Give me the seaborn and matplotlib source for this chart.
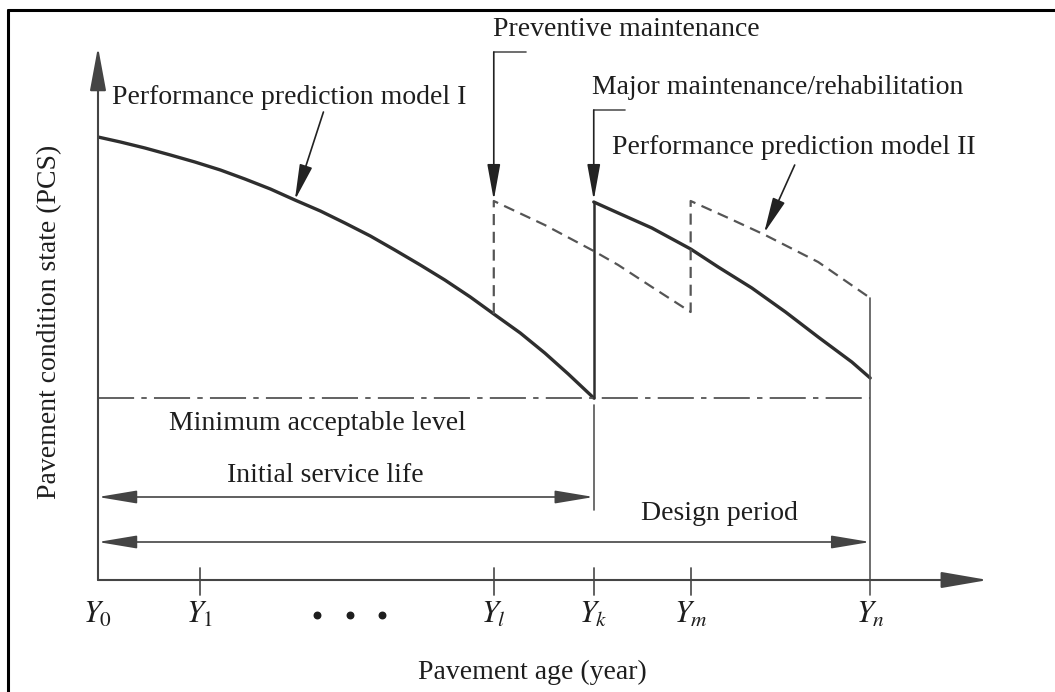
import numpy as np
import pandas as pd
import matplotlib
matplotlib.use("Agg")
import matplotlib.pyplot as plt
import seaborn as sns
from matplotlib.lines import Line2D

# ---------------- data (years on x, condition state on y) ----------------
tick_labels = ["$Y_0$", "$Y_1$", "$Y_l$", "$Y_k$", "$Y_m$", "$Y_n$"]
tick_years = [0.0, 1.0, 3.88, 4.86, 5.81, 7.57]
dot_years = [2.15, 2.47, 2.78]

model1_years = [0.0, 0.22, 0.46, 0.71, 0.95, 1.20, 1.44, 1.69, 1.93, 2.18, 2.42,
                2.67, 2.91, 3.16, 3.40, 3.65, 3.88, 4.14, 4.38, 4.61, 4.86]
model1_pcs = [4.43, 4.38, 4.32, 4.25, 4.18, 4.10, 4.01, 3.91, 3.80, 3.69, 3.57,
              3.44, 3.30, 3.15, 3.00, 2.83, 2.66, 2.47, 2.27, 2.06, 1.82]

rehab_years = [4.86, 5.10, 5.43, 5.81, 6.08, 6.41, 6.74, 7.06, 7.39, 7.57]
rehab_pcs = [3.78, 3.67, 3.52, 3.31, 3.13, 2.92, 2.68, 2.43, 2.18, 2.02]

preventive_years = [3.88, 3.88, 4.38, 4.86, 5.10, 5.43, 5.81,
                    5.81, 6.18, 6.54, 7.06, 7.57]
preventive_pcs = [2.66, 3.79, 3.55, 3.29, 3.15, 2.93, 2.68,
                  3.79, 3.62, 3.45, 3.18, 2.82]

min_level = 1.82
axis_end_year = 8.725
axis_top_pcs = 5.33

# ---------------- style ----------------
sns.set_theme(style="white")
plt.rcParams["font.family"] = ["Liberation Serif", "DejaVu Serif"]
plt.rcParams["mathtext.fontset"] = "stix"

INK = "#1e1e1e"
LINE = "#2e2e2e"
THIN = "#555555"
HEAD = "#222222"
FS = 20

fig = plt.figure(figsize=(10.55, 6.92), dpi=100)
W, H = 1055, 692
ax = fig.add_axes([98 / W, (H - 580) / H, (988 - 98) / W, (580 - 47) / H])


def arrow(start, end, style="-|>", lw=1.3, hl=2.2, hw=0.45, color=HEAD):
    ax.annotate("", xy=end, xytext=start,
                arrowprops=dict(arrowstyle=f"{style},head_length={hl},head_width={hw}",
                                color=color, lw=lw, shrinkA=0, shrinkB=0,
                                mutation_scale=10),
                annotation_clip=False)


# curves
df1 = pd.DataFrame({"year": model1_years, "pcs": model1_pcs})
df2 = pd.DataFrame({"year": rehab_years, "pcs": rehab_pcs})
df3 = pd.DataFrame({"year": preventive_years, "pcs": preventive_pcs})
sns.lineplot(data=df1, x="year", y="pcs", ax=ax, sort=False, estimator=None,
             color=LINE, lw=2.4)
sns.lineplot(data=df2, x="year", y="pcs", ax=ax, sort=False, estimator=None,
             color=LINE, lw=2.4)
sns.lineplot(data=df3, x="year", y="pcs", ax=ax, sort=False, estimator=None,
             color=THIN, lw=1.6, linestyle=(0, (5, 3)))
ax.set_xlim(0, axis_end_year)
ax.set_ylim(0, axis_top_pcs)
ax.set_axis_off()

# axes with arrow heads
arrow((0, 0), (0, axis_top_pcs), hl=2.7, hw=0.5, lw=1.5, color="#444444")
arrow((0, 0), (axis_end_year, 0), hl=2.9, hw=0.5, lw=1.5, color="#444444")

# minimum acceptable level (dash-dot)
ax.plot([0, tick_years[5]], [min_level, min_level], color=THIN, lw=1.3,
        linestyle=(0, (20, 4, 3, 4)))

# vertical at Yk (rehabilitation jump) and its extension
ax.plot([tick_years[3], tick_years[3]], [rehab_pcs[0], min_level], color=LINE, lw=1.8)
ax.plot([tick_years[3], tick_years[3]], [min_level - 0.07, 0.70], color=THIN, lw=1.2,
        clip_on=False)
# vertical at Yn
ax.plot([tick_years[5], tick_years[5]], [preventive_pcs[-1], -0.15], color=THIN, lw=1.2,
        clip_on=False)

# tick marks
for yr in tick_years[1:5]:
    ax.plot([yr, yr], [0.12, -0.15], color=THIN, lw=1.3, clip_on=False)

# tick labels
for lab, yr in zip(tick_labels, tick_years):
    ax.text(yr, -0.35, lab, ha="center", va="center", fontsize=22, color=INK)
ax.scatter(dot_years, [-0.35] * 3, s=22, color=INK, clip_on=False)

# service life / design period arrows
arrow((0, 0.83), (tick_years[3], 0.83), style="<|-|>", hl=2.4, hw=0.4, lw=1.2,
      color="#444444")
arrow((0, 0.38), (tick_years[5], 0.38), style="<|-|>", hl=2.4, hw=0.4, lw=1.2,
      color="#444444")

# callout arrows
ax.plot([4.20, tick_years[2]], [5.28, 5.28], color=THIN, lw=1.2, clip_on=False)
arrow((tick_years[2], 5.28), (tick_years[2], 3.80), hl=2.2, hw=0.4, lw=1.2)
ax.plot([5.17, tick_years[3]], [4.70, 4.70], color=THIN, lw=1.2, clip_on=False)
arrow((tick_years[3], 4.70), (tick_years[3], 3.80), hl=2.2, hw=0.4, lw=1.2)
arrow((2.21, 4.68), (1.93, 3.80), hl=2.2, hw=0.4, lw=1.2)
arrow((6.83, 4.15), (6.53, 3.47), hl=2.2, hw=0.4, lw=1.2)

# annotation texts
txt = dict(fontsize=FS, color=INK)
ax.text(3.87, 5.50, "Preventive maintenance", ha="left", va="center", **txt)
ax.text(4.84, 4.92, "Major maintenance/rehabilitation", ha="left", va="center", **txt)
ax.text(5.04, 4.33, "Performance prediction model II", ha="left", va="center", **txt)
ax.text(0.137, 4.82, "Performance prediction model I", ha="left", va="center", **txt)
ax.text(2.15, 1.57, "Minimum acceptable level", ha="center", va="center", **txt)
ax.text(2.23, 1.05, "Initial service life", ha="center", va="center", **txt)
ax.text(6.09, 0.67, "Design period", ha="center", va="center", **txt)
ax.text(4.26, -0.92, "Pavement age (year)", ha="center", va="center", **txt)
ax.text(-0.47, 2.58, "Pavement condition state (PCS)", ha="center", va="center",
        rotation=90, **txt)

# outer frame (left and top edges visible)
fig.add_artist(Line2D([8 / W, 8 / W], [0, 1 - 10 / H], color="black", lw=2.2))
fig.add_artist(Line2D([8 / W, 1], [1 - 10 / H, 1 - 10 / H], color="black", lw=2.2))

fig.savefig("out.png", dpi=100)
